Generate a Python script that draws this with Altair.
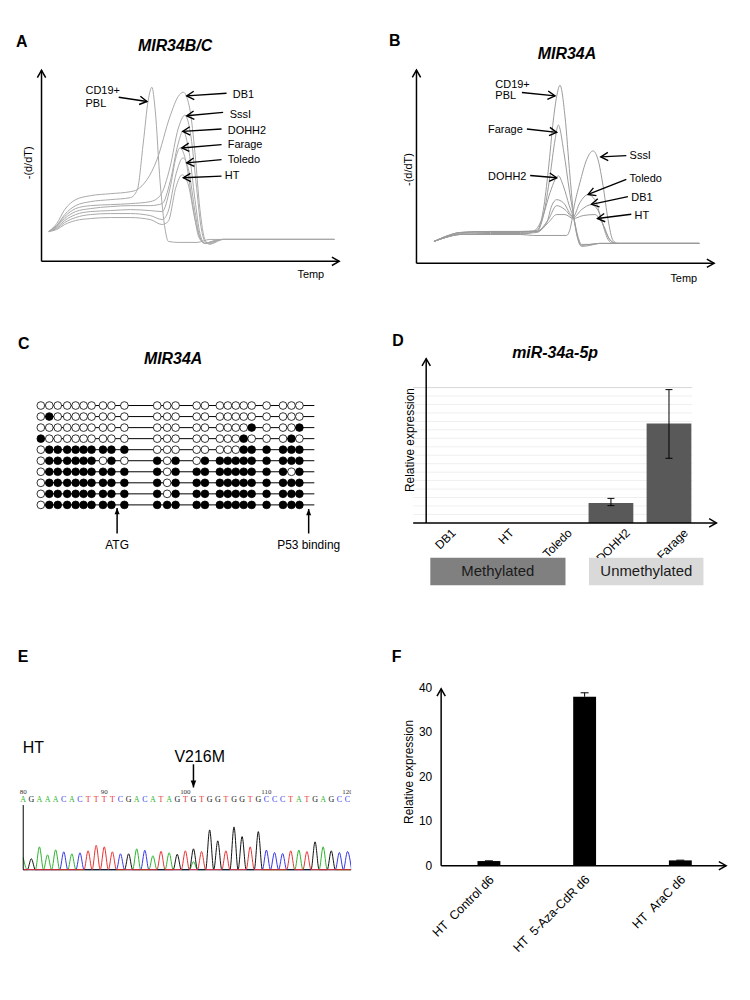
import altair as alt
import pandas as pd

FONT = "Liberation Sans"
SERIF = "Liberation Serif"
CHEV = "M-1.75,-1L0,0L-1.75,1"
TRI = "M0,0L-2,-0.8L-2,0.8Z"
CAP = "M-1,0L1,0"

# ================= Panel A: MIR34B/C melting curves =================
A_NAMES = ["CD19+ PBL", "DB1", "SssI", "DOHH2", "Farage", "Toledo", "HT"]
A_CD19_T = [64.0, 64.8, 65.6, 66.7, 68.2, 70.2, 72.2, 72.9, 73.5, 74.0, 74.37, 74.7, 75.2, 75.7, 76.03, 77.0, 78.9, 80.2, 85.0, 92.7]
A_CD19_V = [0.30, 0.36, 0.47, 0.56, 0.60, 0.62, 0.64, 0.72, 1.19, 1.62, 1.75, 1.52, 0.79, 0.32, 0.20, 0.19, 0.19, 0.22, 0.22, 0.22]
A_DB1_T = [64.0, 64.8, 65.6, 66.7, 68.2, 70.2, 72.2, 72.87, 74.87, 76.2, 77.03, 77.53, 78.2, 78.7, 79.2, 79.7, 80.2, 81.2, 85.0, 92.7]
A_DB1_V = [0.30, 0.38, 0.52, 0.62, 0.66, 0.68, 0.70, 0.72, 1.02, 1.46, 1.66, 1.70, 1.52, 1.09, 0.52, 0.22, 0.17, 0.22, 0.22, 0.22]
A_SSSI_T = [64.0, 64.8, 65.6, 66.7, 68.2, 70.2, 72.2, 74.2, 75.2, 76.2, 77.0, 77.7, 78.3, 78.8, 79.3, 79.8, 80.4, 81.5, 92.7]
A_SSSI_V = [0.30, 0.36, 0.45, 0.53, 0.56, 0.57, 0.58, 0.60, 0.66, 0.95, 1.33, 1.47, 1.25, 0.80, 0.35, 0.19, 0.18, 0.22, 0.22]
A_DOHH2_T = [64.0, 64.8, 65.6, 66.7, 68.2, 70.2, 72.2, 74.2, 75.4, 76.2, 77.0, 77.5, 78.1, 78.7, 79.2, 79.7, 80.4, 81.5, 92.7]
A_DOHH2_V = [0.30, 0.35, 0.43, 0.50, 0.53, 0.55, 0.56, 0.56, 0.58, 0.80, 1.18, 1.31, 1.10, 0.62, 0.28, 0.18, 0.19, 0.22, 0.22]
A_FARAGE_T = [64.0, 64.8, 65.6, 66.7, 68.2, 70.2, 72.2, 74.2, 75.4, 76.2, 76.8, 77.2, 77.8, 78.5, 79.1, 79.7, 80.4, 81.5, 92.7]
A_FARAGE_V = [0.30, 0.34, 0.41, 0.47, 0.50, 0.51, 0.52, 0.51, 0.50, 0.74, 1.05, 1.14, 1.00, 0.55, 0.24, 0.18, 0.20, 0.22, 0.22]
A_TOLEDO_T = [64.0, 64.8, 65.6, 66.7, 68.2, 70.2, 72.2, 74.2, 75.4, 76.0, 76.8, 77.5, 78.1, 78.7, 79.2, 79.7, 80.4, 81.5, 92.7]
A_TOLEDO_V = [0.30, 0.33, 0.39, 0.44, 0.47, 0.48, 0.48, 0.46, 0.42, 0.50, 0.88, 1.04, 0.90, 0.50, 0.24, 0.18, 0.20, 0.22, 0.22]
A_HT_T = [64.0, 64.8, 65.6, 66.7, 68.2, 70.2, 72.2, 74.2, 75.4, 76.0, 76.8, 77.4, 78.0, 78.7, 79.3, 79.8, 80.5, 81.5, 92.7]
A_HT_V = [0.30, 0.32, 0.37, 0.41, 0.43, 0.44, 0.44, 0.42, 0.37, 0.40, 0.75, 0.87, 0.78, 0.42, 0.22, 0.18, 0.20, 0.22, 0.22]

A_LAB = ["CD19+", "PBL", "DB1", "SssI", "DOHH2", "Farage", "Toledo", "HT"]
A_LAB_T = [67.7, 67.7, 82.5, 82.2, 82.0, 82.0, 82.0, 81.7]
A_LAB_V = [1.71, 1.58, 1.675, 1.47, 1.31, 1.173, 1.02, 0.86]
A_TAIL_T = [71.03, 81.87, 81.53, 81.37, 81.37, 81.37, 81.37]
A_TAIL_V = [1.65, 1.69, 1.497, 1.33, 1.173, 1.023, 0.857]
A_TIP_T = [73.87, 77.87, 77.87, 77.47, 77.37, 77.87, 77.53]
A_TIP_V = [1.607, 1.663, 1.463, 1.307, 1.14, 0.99, 0.84]
A_ANG = [8.6, 176.1, 174.7, 176.6, 175.3, 174.6, 177.5]

# ================= Panel B: MIR34A melting curves =================
B_NAMES = ["CD19+ PBL", "Farage", "DOHH2", "SssI", "Toledo", "DB1", "HT"]
B_CD19_T = [65.83, 67.0, 68.5, 71.5, 74.5, 76.17, 76.83, 77.33, 77.83, 78.17, 78.5, 79.0, 79.5, 79.9, 80.33, 80.67, 81.5, 82.5, 92.5]
B_CD19_V = [0.22, 0.27, 0.31, 0.32, 0.32, 0.33, 0.54, 0.94, 1.44, 1.68, 1.79, 1.48, 0.88, 0.46, 0.23, 0.17, 0.18, 0.20, 0.20]
B_FARAGE_T = [65.83, 67.0, 68.5, 71.5, 74.5, 76.17, 76.83, 77.5, 78.0, 78.33, 78.9, 79.43, 79.9, 80.33, 80.67, 81.5, 82.5, 92.5]
B_FARAGE_V = [0.22, 0.27, 0.31, 0.32, 0.32, 0.32, 0.48, 0.88, 1.24, 1.39, 1.11, 0.74, 0.46, 0.24, 0.18, 0.19, 0.20, 0.20]
B_DOHH2_T = [65.83, 67.0, 68.5, 71.5, 74.5, 75.83, 76.67, 77.5, 78.0, 78.33, 78.83, 79.43, 79.9, 80.33, 80.67, 81.5, 82.5, 92.5]
B_DOHH2_V = [0.22, 0.26, 0.29, 0.29, 0.29, 0.32, 0.44, 0.71, 0.84, 0.88, 0.78, 0.58, 0.44, 0.26, 0.19, 0.19, 0.20, 0.20]
B_SSSI_T = [65.83, 67.0, 68.5, 71.5, 74.5, 75.83, 77.5, 79.17, 79.5, 80.0, 80.5, 81.17, 81.83, 82.33, 82.83, 83.33, 83.83, 84.33, 92.5]
B_SSSI_V = [0.22, 0.26, 0.29, 0.29, 0.29, 0.28, 0.28, 0.28, 0.34, 0.61, 0.81, 1.04, 1.13, 1.04, 0.78, 0.44, 0.23, 0.20, 0.20]
B_TOLEDO_T = [65.83, 67.0, 68.5, 71.5, 74.5, 76.17, 77.17, 77.67, 78.17, 78.83, 79.83, 80.5, 81.33, 82.0, 82.67, 83.33, 83.83, 92.5]
B_TOLEDO_V = [0.22, 0.27, 0.31, 0.32, 0.32, 0.32, 0.41, 0.58, 0.64, 0.61, 0.47, 0.61, 0.69, 0.64, 0.44, 0.24, 0.20, 0.20]
B_DB1_T = [65.83, 67.0, 68.5, 71.5, 74.5, 76.17, 77.33, 78.17, 79.0, 79.83, 80.67, 81.67, 82.33, 83.0, 83.67, 84.17, 92.5]
B_DB1_V = [0.22, 0.26, 0.30, 0.31, 0.31, 0.32, 0.44, 0.58, 0.54, 0.46, 0.54, 0.59, 0.53, 0.34, 0.22, 0.20, 0.20]
B_HT_T = [65.83, 67.0, 68.5, 71.5, 74.5, 76.17, 77.33, 78.17, 79.0, 79.83, 80.83, 82.0, 82.83, 83.5, 84.17, 92.5]
B_HT_V = [0.22, 0.26, 0.29, 0.30, 0.30, 0.31, 0.41, 0.49, 0.49, 0.45, 0.48, 0.49, 0.39, 0.24, 0.20, 0.20]

B_LAB = ["CD19+", "PBL", "Farage", "DOHH2", "SssI", "Toledo", "DB1", "HT"]
B_LAB_T = [72.0, 72.0, 71.27, 71.27, 85.5, 85.5, 85.67, 86.0]
B_LAB_V = [1.793, 1.677, 1.343, 0.87, 1.077, 0.843, 0.657, 0.477]
B_TAIL_T = [74.67, 75.17, 75.5, 85.17, 85.17, 85.33, 85.67]
B_TAIL_V = [1.717, 1.35, 0.883, 1.083, 0.843, 0.67, 0.493]
B_TIP_T = [78.0, 78.17, 78.17, 82.6, 81.33, 81.67, 82.27]
B_TIP_V = [1.683, 1.317, 0.86, 1.07, 0.693, 0.593, 0.45]
B_ANG = [5.8, 6.3, 4.9, 177.1, 158.7, 168.1, 172.8]

# ================= Panel C: bisulfite sequencing =================
C_SITES = [0, 8.5, 17, 26.5, 35, 43, 51, 62.5, 71, 84,
           117, 127, 135.5,
           156.7, 165, 180, 188, 196, 204, 212, 227, 243.5, 252, 260]
C_ROWS = [
    "0000000000" + "000" + "00000000000",
    "0100000000" + "000" + "00000000000",
    "0000000000" + "000" + "00000010001",
    "1000000000" + "000" + "00000100010",
    "0111111111" + "000" + "00000111111",
    "0111111010" + "101" + "01111111111",
    "0111111111" + "101" + "11111111101",
    "0111111111" + "101" + "11111111111",
    "0111111111" + "101" + "11111111111",
    "0111111111" + "111" + "11111111111",
]
C_LINE_END = 275
C_MARK_LAB = ["ATG", "P53 binding"]
C_MARK_POS = [76.7, 269.3]

# ================= Panel D: miR-34a-5p expression =================
D_CATS = ["DB1", "HT", "Toledo", "DOHH2", "Farage"]
D_VALS = [0.0, 0.0, 0.0, 0.118, 0.588]
D_ERR_IDX = [3, 4]
D_ERR_LO = [0.102, 0.382]
D_ERR_HI = [0.145, 0.788]
D_GRID = [0.05, 0.10, 0.15, 0.20, 0.25, 0.30, 0.35, 0.40, 0.45, 0.50, 0.55, 0.60, 0.65, 0.70, 0.75]
D_GRID_TOP = [0.80]
D_GROUPS = ["Methylated", "Unmethylated"]

# ================= Panel E: sequencing trace =================
E_START = 80
E_SEQ = "AGAAACACTTTTCGACATAGTGTGGTGGTGCCCTATGAGCC"
E_PEAK = [12, 11, 23, 15, 20, 18, 16, 17, 19, 24.5, 23, 18, 16, 16, 21, 19.5, 14, 18.5, 17, 15.5,
          19, 21, 18.3, 40, 29, 19, 43, 33.3, 23, 38.3, 19.7, 17.3, 16.3, 19, 19.7, 18.3, 28, 23, 19, 17.3, 18.3]
E_MIX_POS = [101]
E_MIX_BASE = ["A"]
E_MIX_H = [8]
E_TICKS = [80, 90, 100, 110, 120]
E_BASES = ["A", "C", "G", "T"]
E_COLORS = ["#2db32d", "#3535e8", "#111111", "#e83030"]

# ================= Panel F: HT treatment =================
F_CATS = ["HT\u00a0\u00a0Control d6", "HT\u00a0\u00a05-Aza-CdR d6", "HT\u00a0\u00a0AraC d6"]
F_VALS = [1.05, 38.0, 1.2]
F_ERR_HI = [1.1, 38.9, 1.25]
F_TICKS = [0, 10, 20, 30, 40]


# ---------------- helpers ----------------
def S(dom, rev=False):
    if rev:
        return alt.Scale(domain=dom, nice=False, zero=False, reverse=True)
    return alt.Scale(domain=dom, nice=False, zero=False)


def XY(xs, ys, xf="x", yf="y"):
    return dict(x=alt.X(f"{xf}:Q", scale=xs, axis=None),
                y=alt.Y(f"{yf}:Q", scale=ys, axis=None))


def text_layer(xs, ys, xv, yv, labels, **kw):
    kw.setdefault("font", FONT)
    kw.setdefault("color", "black")
    df = pd.DataFrame({"x": xv, "y": yv, "t": labels})
    return alt.Chart(df).mark_text(**kw).encode(**XY(xs, ys), text="t:N")


def arrows(xs, ys, tx, tv, hx, hv, ang, width=1.4, head=CHEV, hsize=70, filled=False):
    df = pd.DataFrame({"x": tx, "y": tv, "x2": hx, "y2": hv, "a": ang})
    rule = alt.Chart(df).mark_rule(color="black", strokeWidth=width).encode(
        **XY(xs, ys), x2="x2:Q", y2="y2:Q")
    heads = alt.Chart(df).mark_point(shape=head, size=hsize, filled=filled, color="black",
                                     strokeWidth=width, opacity=1).encode(
        **XY(xs, ys, "x2", "y2"), angle=alt.Angle("a:Q", scale=None))
    return [rule, heads]


def curves(names, ts, vs):
    rows = []
    for n, t, v in zip(names, ts, vs):
        for a, b in zip(t, v):
            rows.append({"s": n, "x": a, "y": b})
    return pd.DataFrame(rows)


# ---------------- Panel A ----------------
AX, AY = S([60, 96.7]), S([-0.51, 2.51])
a_df = curves(A_NAMES,
              [A_CD19_T, A_DB1_T, A_SSSI_T, A_DOHH2_T, A_FARAGE_T, A_TOLEDO_T, A_HT_T],
              [A_CD19_V, A_DB1_V, A_SSSI_V, A_DOHH2_V, A_FARAGE_V, A_TOLEDO_V, A_HT_V])
panel_a = alt.layer(
    alt.Chart(a_df).mark_line(color="#a8a8a8", strokeWidth=1, interpolate="monotone").encode(
        **XY(AX, AY), detail="s:N"),
    *arrows(AX, AY, [63.27, 63.27], [0, 0], [63.27, 93.2], [1.92, 0], [270, 0], width=1.5),
    *arrows(AX, AY, A_TAIL_T, A_TAIL_V, A_TIP_T, A_TIP_V, A_ANG),
    text_layer(AX, AY, A_LAB_T, A_LAB_V, A_LAB, align="left", baseline="middle", fontSize=11),
    text_layer(AX, AY, [62.0], [0.99], ["-(d/dT)"], angle=270, align="center", baseline="middle", fontSize=11),
    text_layer(AX, AY, [89.0], [-0.14], ["Temp"], align="left", baseline="middle", fontSize=11),
    text_layer(AX, AY, [60.7], [2.155], ["A"], align="left", baseline="alphabetic", fontSize=16, fontWeight="bold"),
    text_layer(AX, AY, [76.7], [2.165], ["MIR34B/C"], align="center", baseline="middle", fontSize=16,
               fontWeight="bold", fontStyle="italic"),
).properties(width=367, height=302)

# ---------------- Panel B ----------------
BX, BY = S([60, 96.7]), S([-0.49, 2.53])
b_df = curves(B_NAMES,
              [B_CD19_T, B_FARAGE_T, B_DOHH2_T, B_SSSI_T, B_TOLEDO_T, B_DB1_T, B_HT_T],
              [B_CD19_V, B_FARAGE_V, B_DOHH2_V, B_SSSI_V, B_TOLEDO_V, B_DB1_V, B_HT_V])
panel_b = alt.layer(
    alt.Chart(b_df).mark_line(color="#9a9a9a", strokeWidth=1, interpolate="monotone").encode(
        **XY(BX, BY), detail="s:N"),
    *arrows(BX, BY, [64.07, 64.07], [0, 0], [64.07, 94.0], [1.943, 0], [270, 0], width=1.5),
    *arrows(BX, BY, B_TAIL_T, B_TAIL_V, B_TIP_T, B_TIP_V, B_ANG),
    text_layer(BX, BY, B_LAB_T, B_LAB_V, B_LAB, align="left", baseline="middle", fontSize=11),
    text_layer(BX, BY, [63.33], [0.943], ["-(d/dT)"], angle=270, align="center", baseline="middle", fontSize=11),
    text_layer(BX, BY, [89.6], [-0.157], ["Temp"], align="left", baseline="middle", fontSize=11),
    text_layer(BX, BY, [61.3], [2.18], ["B"], align="left", baseline="alphabetic", fontSize=16, fontWeight="bold"),
    text_layer(BX, BY, [79.2], [2.105], ["MIR34A"], align="center", baseline="middle", fontSize=16,
               fontWeight="bold", fontStyle="italic"),
).properties(width=367, height=302)

# ---------------- Panel C ----------------
CX, CY = S([-32, 335]), S([-7.288, 21.54], rev=True)
c_rows = []
for r, pat in enumerate(C_ROWS):
    for s, m in zip(C_SITES, pat):
        c_rows.append({"x": s, "y": r + 1, "m": m})
c_df = pd.DataFrame(c_rows)
c_lines = pd.DataFrame({"x": [0] * len(C_ROWS), "x2": [C_LINE_END] * len(C_ROWS),
                        "y": list(range(1, len(C_ROWS) + 1))})
panel_c = alt.layer(
    alt.Chart(c_lines).mark_rule(color="black", strokeWidth=1).encode(**XY(CX, CY), x2="x2:Q"),
    alt.Chart(c_df[c_df.m == "0"]).mark_circle(size=60, fill="white", stroke="black", strokeWidth=0.8,
                                               opacity=1).encode(**XY(CX, CY)),
    alt.Chart(c_df[c_df.m == "1"]).mark_circle(size=60, fill="black", stroke="black", strokeWidth=0.8,
                                               opacity=1).encode(**XY(CX, CY)),
    *arrows(CX, CY, C_MARK_POS, [12.59, 12.59], C_MARK_POS, [10.28, 10.37], [270, 270],
            width=1.5, head=TRI, hsize=40, filled=True),
    text_layer(CX, CY, C_MARK_POS, [13.59, 13.59], C_MARK_LAB, align="center", baseline="middle", fontSize=12),
    text_layer(CX, CY, [-23], [-4.135], ["C"], align="left", baseline="alphabetic", fontSize=16, fontWeight="bold"),
    text_layer(CX, CY, [133], [-3.234], ["MIR34A"], align="center", baseline="middle", fontSize=16,
               fontWeight="bold", fontStyle="italic"),
).properties(width=367, height=320)

# ---------------- Panel D ----------------
DX, DY = S([-0.962, 5.155]), S([-0.647, 1.235])
d_df = pd.DataFrame({"x": list(range(len(D_CATS))), "y": D_VALS, "y0": [0] * len(D_CATS), "t": D_CATS})
d_err = pd.DataFrame({"x": D_ERR_IDX, "y": D_ERR_LO, "y2": D_ERR_HI})
d_caps = pd.DataFrame({"x": D_ERR_IDX * 2, "y": D_ERR_LO + D_ERR_HI})
d_grid = pd.DataFrame({"y": D_GRID, "x": [-0.407] * len(D_GRID), "x2": [4.4] * len(D_GRID)})
d_grid_top = pd.DataFrame({"y": D_GRID_TOP, "x": [-0.407], "x2": [4.4]})
d_box1 = pd.DataFrame({"x": [-0.112], "x2": [2.217], "y": [-0.369], "y2": [-0.206]})
d_box2 = pd.DataFrame({"x": [2.622], "x2": [4.593], "y": [-0.369], "y2": [-0.206]})
d_box_text = pd.DataFrame({"x": [1.05, 3.61], "y": [-0.287, -0.287], "t": D_GROUPS})
panel_d = alt.layer(
    alt.Chart(d_grid).mark_rule(strokeWidth=1, color="#efefef").encode(**XY(DX, DY), x2="x2:Q"),
    alt.Chart(d_grid_top).mark_rule(strokeWidth=1, color="#d6d6d6").encode(**XY(DX, DY), x2="x2:Q"),
    alt.Chart(d_df).mark_bar(size=45, color="#595959").encode(**XY(DX, DY), y2="y0:Q"),
    alt.Chart(d_err).mark_rule(color="black", strokeWidth=1).encode(**XY(DX, DY), y2="y2:Q"),
    alt.Chart(d_caps).mark_point(shape=CAP, size=49, filled=False, color="black", strokeWidth=1, opacity=1).encode(
        **XY(DX, DY)),
    *arrows(DX, DY, [-0.183, -0.407], [0, 0], [-0.183, 4.817], [0.971, 0], [270, 0], width=1.5),
    alt.Chart(d_df).mark_text(font=FONT, fontSize=12, color="black", angle=315, align="right", baseline="middle",
                              dx=6.3, dy=17.7).encode(**XY(DX, DY, "x", "y0"), text="t:N"),
    alt.Chart(d_box1).mark_rect(color="#808080").encode(**XY(DX, DY), x2="x2:Q", y2="y2:Q"),
    alt.Chart(d_box2).mark_rect(color="#d9d9d9").encode(**XY(DX, DY), x2="x2:Q", y2="y2:Q"),
    alt.Chart(d_box_text).mark_text(font=FONT, fontSize=15, color="#1a1a1a", align="center",
                                    baseline="middle").encode(**XY(DX, DY), text="t:N"),
    text_layer(DX, DY, [-0.462], [0.49], ["Relative expression"], angle=270, align="center",
               baseline="middle", fontSize=12),
    text_layer(DX, DY, [-0.767], [1.047], ["D"], align="left", baseline="alphabetic", fontSize=16, fontWeight="bold"),
    text_layer(DX, DY, [2.038], [1.006], ["miR-34a-5p"], align="center", baseline="middle", fontSize=16,
               fontWeight="bold", fontStyle="italic"),
).properties(width=367, height=320)

# ---------------- Panel E ----------------
EX, EY = S([78.245, 120.45]), S([-125.3, 236.7])
trace_layers = []
letter_layers = []
for base, col in zip(E_BASES, E_COLORS):
    pts = {}
    for k, (b, h) in enumerate(zip(E_SEQ, E_PEAK)):
        if b == base:
            p = E_START + k
            pts[p] = h
            pts.setdefault(p - 0.5, 0)
            pts.setdefault(p + 0.5, 0)
    for p, b, h in zip(E_MIX_POS, E_MIX_BASE, E_MIX_H):
        if b == base:
            pts[p] = h
            pts.setdefault(p - 0.5, 0)
            pts.setdefault(p + 0.5, 0)
    pts.setdefault(E_START, 0)
    pts.setdefault(E_START + len(E_SEQ) - 0.5, 0)
    xs_ = [p for p in sorted(pts) if p >= E_START]
    tdf = pd.DataFrame({"x": xs_, "y": [pts[p] for p in xs_]})
    trace_layers.append(
        alt.Chart(tdf).mark_line(strokeWidth=1, color=col, interpolate="monotone", clip=True).encode(**XY(EX, EY)))
    ks = [k for k, b in enumerate(E_SEQ) if b == base]
    ldf = pd.DataFrame({"x": [E_START + k for k in ks], "y": [70.4] * len(ks), "t": [base] * len(ks)})
    letter_layers.append(
        alt.Chart(ldf).mark_text(font=SERIF, fontSize=8, color=col, align="center", baseline="middle",
                                 clip=True).encode(**XY(EX, EY), text="t:N"))
e_ticks = pd.DataFrame({"x": E_TICKS, "y": [78.0] * len(E_TICKS), "t": [str(v) for v in E_TICKS]})
panel_e = alt.layer(
    *trace_layers,
    alt.Chart(pd.DataFrame({"x": [E_START], "y": [0], "y2": [65]})).mark_rule(
        color="black", strokeWidth=1).encode(**XY(EX, EY), y2="y2:Q"),
    *letter_layers,
    alt.Chart(e_ticks).mark_text(font=SERIF, fontSize=7, color="#333333", align="center", baseline="middle",
                                 clip=True).encode(**XY(EX, EY), text="t:N"),
    *arrows(EX, EY, [101], [106], [101], [82.7], [90], width=1.5, head=TRI, hsize=49, filled=True),
    text_layer(EX, EY, [101.77], [113.4], ["V216M"], align="center", baseline="middle", fontSize=16),
    text_layer(EX, EY, [79.93], [122.5], ["HT"], align="left", baseline="middle", fontSize=16),
    text_layer(EX, EY, [79.31], [208.7], ["E"], align="left", baseline="alphabetic", fontSize=16, fontWeight="bold"),
).properties(width=344, height=362)

# ---------------- Panel F ----------------
FX, FY = S([-1.367, 2.582]), S([-28.93, 52.06])
f_df = pd.DataFrame({"x": list(range(len(F_CATS))), "y": F_VALS, "y0": [0] * len(F_CATS),
                     "hi": F_ERR_HI, "t": F_CATS})
f_ticks = pd.DataFrame({"x": [-0.4992] * len(F_TICKS), "y": F_TICKS, "t": [str(v) for v in F_TICKS]})
panel_f = alt.layer(
    alt.Chart(f_df).mark_bar(size=23, color="black").encode(**XY(FX, FY), y2="y0:Q"),
    alt.Chart(f_df).mark_rule(color="black", strokeWidth=1).encode(**XY(FX, FY), y2="hi:Q"),
    alt.Chart(f_df).mark_point(shape=CAP, size=64, filled=False, color="black", strokeWidth=1, opacity=1).encode(
        **XY(FX, FY, "x", "hi")),
    *arrows(FX, FY, [-0.4992, -0.4992], [0, 0], [-0.4992, 2.4785], [39.8, 0], [270, 0], width=1.5),
    alt.Chart(f_ticks).mark_text(font=FONT, fontSize=12, color="black", align="right", baseline="middle",
                                 dx=-9).encode(**XY(FX, FY), text="t:N"),
    alt.Chart(f_df).mark_text(font=FONT, fontSize=12.5, color="black", angle=315, align="right",
                              baseline="middle", dx=-6.4, dy=10.6).encode(**XY(FX, FY, "x", "y0"), text="t:N"),
    text_layer(FX, FY, [-0.830], [21.1], ["Relative expression"], angle=270, align="center",
               baseline="middle", fontSize=12),
    text_layer(FX, FY, [-1.016], [45.8], ["F"], align="left", baseline="alphabetic", fontSize=16, fontWeight="bold"),
).properties(width=390, height=362)

row1 = alt.hconcat(panel_a, panel_b, spacing=0)
row2 = alt.hconcat(panel_c, panel_d, spacing=0)
row3 = alt.hconcat(panel_e, panel_f, spacing=0)
chart = alt.vconcat(row1, row2, row3, spacing=0).properties(
    padding=0, background="white"
).configure_view(stroke="transparent")

chart.save("out.html", embed_options={"renderer": "svg", "actions": False})
